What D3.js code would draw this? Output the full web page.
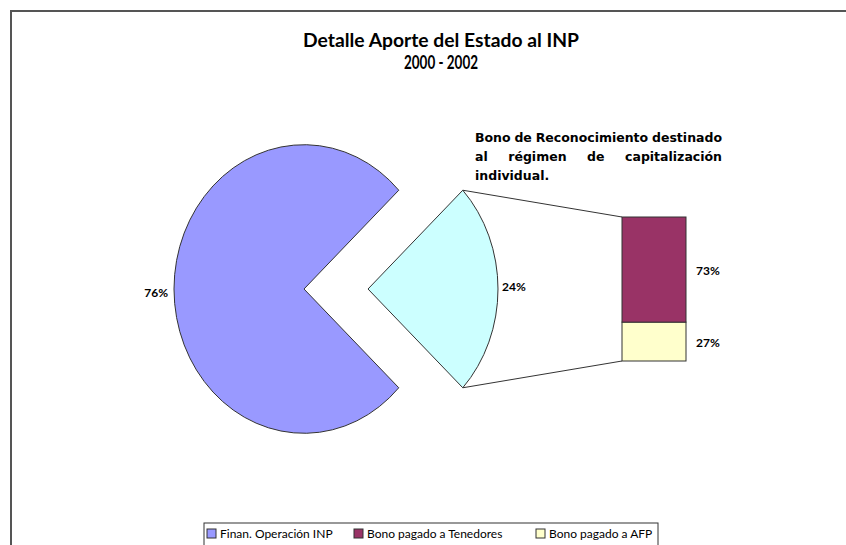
<!DOCTYPE html>
<html>
<head>
<meta charset="utf-8">
<script src="https://cdn.jsdelivr.net/npm/d3@7"></script>
<style>
  body { margin: 0; background: #fff; }
  text { font-family: "Lato", "DejaVu Sans", sans-serif; fill: #000; }
</style>
</head>
<body>
<div id="chart"></div>
<script>
// main pie: split slice first, then the rest
var pieLabels = ["Bono de Reconocimiento", "Finan. Operación INP"];
var pieValues = [24, 76];
var pieColors = ["#CCFFFF", "#9999FF"];

// stacked bar for the split slice (bottom to top)
var barLabels = ["Bono pagado a AFP", "Bono pagado a Tenedores"];
var barValues = [27, 73];
var barColors = ["#FFFFCC", "#993366"];

var legendLabels = ["Finan. Operación INP", "Bono pagado a Tenedores", "Bono pagado a AFP"];
var legendColors = ["#9999FF", "#993366", "#FFFFCC"];

var titleLines = ["Detalle Aporte del Estado al INP", "2000 - 2002"];
var noteLines = ["Bono de Reconocimiento destinado", "al régimen de capitalización", "individual."];

const W = 846, H = 545;
var svg = d3.select("#chart").append("svg").attr("width", W).attr("height", H);

// frame (only top and left edges show)
svg.append("path")
  .attr("d", "M11,545 V11 H846")
  .attr("fill", "none")
  .attr("stroke", "#555")
  .attr("stroke-width", 2);

// title
svg.selectAll(".title")
  .data(titleLines)
  .enter()
  .append("text")
  .attr("x", 441)
  .attr("y", function (d, i) { return 47 + i * 22; })
  .attr("text-anchor", "middle")
  .attr("font-size", 18)
  .attr("font-weight", "bold")
  .attr("textLength", function (d, i) { return i == 0 ? 276 : 74; })
  .attr("lengthAdjust", "spacingAndGlyphs")
  .text(function (d) { return d; });

// pie geometry (picture is stretched vertically)
var r = 130, sy = 1.11;
var cyPie = 289;
var bigCx = 304, smallCx = 368;
var total = d3.sum(pieValues);
var half = Math.PI * pieValues[0] / total;
var pie = d3.pie().sort(null)
  .startAngle(Math.PI / 2 - half)
  .endAngle(Math.PI / 2 - half + 2 * Math.PI);
var arcs = pie(pieValues);
var arc = d3.arc().innerRadius(0).outerRadius(r);

arcs.forEach(function (a, i) {
  var cx = i == 0 ? smallCx : bigCx;
  svg.append("g")
    .attr("transform", "translate(" + cx + "," + cyPie + ") scale(1," + sy + ")")
    .append("path")
    .attr("d", arc(a))
    .attr("fill", pieColors[i])
    .attr("stroke", "#333")
    .attr("stroke-width", 1)
    .attr("vector-effect", "non-scaling-stroke");
});

function pt(cx, ang, rad) {
  return [cx + Math.sin(ang) * rad, cyPie - Math.cos(ang) * rad * sy];
}

// pie labels
var fmt = function (v) { return Math.round(v / total * 100) + "%"; };
svg.append("text")
  .attr("x", bigCx + Math.sin((arcs[1].startAngle + arcs[1].endAngle) / 2) * (r + 6))
  .attr("y", cyPie + 8)
  .attr("text-anchor", "end")
  .attr("font-size", 12)
  .attr("font-weight", "bold")
  .text(fmt(pieValues[1]));
svg.append("text")
  .attr("x", smallCx + r + 4)
  .attr("y", cyPie + 2)
  .attr("font-size", 12)
  .attr("font-weight", "bold")
  .text(fmt(pieValues[0]));

// bar of split slice
var barX = 622, barW = 64;
var y = d3.scaleLinear().domain([0, d3.sum(barValues)]).range([361, 217]);
var stack = d3.cumsum(barValues);
barValues.forEach(function (v, i) {
  var lo = stack[i] - v, hi = stack[i];
  svg.append("rect")
    .attr("x", barX)
    .attr("y", y(hi))
    .attr("width", barW)
    .attr("height", y(lo) - y(hi))
    .attr("fill", barColors[i])
    .attr("stroke", "#333")
    .attr("stroke-width", 1);
  svg.append("text")
    .attr("x", barX + barW + 10)
    .attr("y", (y(lo) + y(hi)) / 2 + 5)
    .attr("font-size", 12)
    .attr("font-weight", "bold")
    .text(Math.round(v / d3.sum(barValues) * 100) + "%");
});

// connector lines
var pTop = pt(smallCx, arcs[0].startAngle, r);
var pBot = pt(smallCx, arcs[0].endAngle, r);
svg.append("line")
  .attr("x1", pTop[0]).attr("y1", pTop[1])
  .attr("x2", barX).attr("y2", y(d3.sum(barValues)))
  .attr("stroke", "#333");
svg.append("line")
  .attr("x1", pBot[0]).attr("y1", pBot[1])
  .attr("x2", barX).attr("y2", y(0))
  .attr("stroke", "#333");

// justified note above the bar
var noteX = 475, noteW = 247;
noteLines.forEach(function (line, li) {
  var words = line.split(" ");
  var ty = 142 + li * 19;
  var g = svg.append("g");
  var nodes = words.map(function (w) {
    return g.append("text")
      .attr("y", ty)
      .style("font-family", "'DejaVu Sans', sans-serif")
      .style("font-size", "12.5px")
      .style("font-weight", "bold")
      .text(w);
  });
  var widths = nodes.map(function (n) { return n.node().getComputedTextLength(); });
  var last = li == noteLines.length - 1;
  var gap = last || words.length < 2 ? 4 : (noteW - d3.sum(widths)) / (words.length - 1);
  var x = noteX;
  nodes.forEach(function (n, k) {
    n.attr("x", x);
    x += widths[k] + gap;
  });
});

// legend
var lg = svg.append("g").attr("transform", "translate(204,523)");
lg.append("rect")
  .attr("width", 454).attr("height", 30)
  .attr("fill", "#fff").attr("stroke", "#333");
var lx = [3, 150, 332];
legendLabels.forEach(function (d, i) {
  lg.append("rect")
    .attr("x", lx[i]).attr("y", 6)
    .attr("width", 9).attr("height", 9)
    .attr("fill", legendColors[i]).attr("stroke", "#333");
  lg.append("text")
    .attr("x", lx[i] + 13).attr("y", 15)
    .attr("font-size", 12)
    .text(d);
});
</script>
</body>
</html>
